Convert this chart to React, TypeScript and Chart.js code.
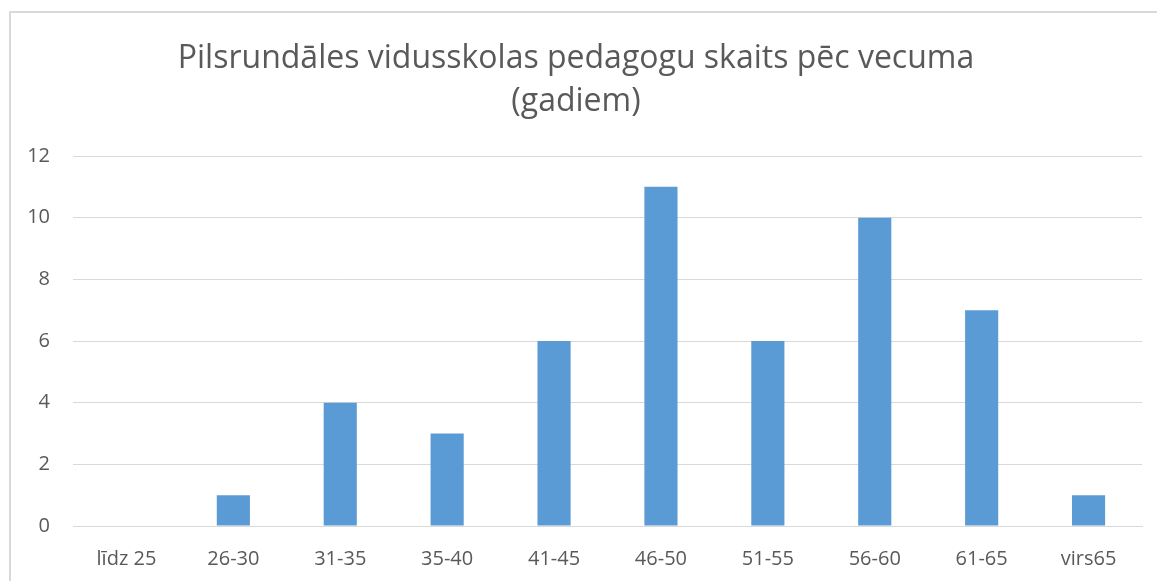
import React, { useEffect, useRef } from "react";
import { Chart, registerables } from "chart.js";

Chart.register(...registerables);

const titleLines = ["Pilsrundāles vidusskolas pedagogu skaits pēc vecuma", "(gadiem)"];
const categories = ["līdz 25", "26-30", "31-35", "35-40", "41-45", "46-50", "51-55", "56-60", "61-65", "virs65"];
const values = [0, 1, 4, 3, 6, 11, 6, 10, 7, 1];
const yMin = 0;
const yMax = 12;
const yStep = 2;

const FONT = "'Open Sans', Lato, sans-serif";
const TEXT = "#595959";

export default function App() {
  const ref = useRef<HTMLCanvasElement | null>(null);
  useEffect(() => {
    if (!ref.current) return;
    const chart = new Chart(ref.current, {
      type: "bar",
      data: {
        labels: categories,
        datasets: [
          {
            data: values,
            backgroundColor: "#5B9BD5",
            borderWidth: 0,
            barPercentage: 0.5,
            categoryPercentage: 0.62,
          },
        ],
      },
      options: {
        animation: false,
        responsive: false,
        maintainAspectRatio: false,
        layout: { padding: { left: 10, right: 15, top: 37, bottom: 0 } },
        plugins: {
          legend: { display: false },
          tooltip: { enabled: false },
          title: {
            display: true,
            text: titleLines,
            color: TEXT,
            font: { family: FONT, size: 32, weight: "normal", lineHeight: "43px" },
            padding: { top: 0, bottom: 33 },
          },
        },
        scales: {
          x: {
            grid: { display: false, drawTicks: false },
            border: { display: true, color: "#d9d9d9", width: 1 },
            ticks: { color: TEXT, font: { family: FONT, size: 20 }, padding: 21, maxRotation: 0 },
            afterFit: (s: any) => {
              s.height = 55;
            },
          },
          y: {
            min: yMin,
            max: yMax,
            grid: { color: "#d9d9d9", drawTicks: false, lineWidth: 1 },
            border: { display: false },
            ticks: { stepSize: yStep, color: TEXT, font: { family: FONT, size: 20 }, padding: 23 },
            afterFit: (s: any) => {
              s.width = 63;
            },
          },
        },
      },
    });
    return () => chart.destroy();
  }, []);
  return (
    <div style={{ position: "fixed", left: 0, top: 0, width: 1157, height: 581, background: "#fff", overflow: "hidden" }}>
      <div
        style={{
          position: "absolute",
          left: 9,
          top: 11,
          width: 1300,
          height: 700,
          border: "2px solid #d9d9d9",
          boxSizing: "border-box",
        }}
      />
      <canvas ref={ref} width={1157} height={581} style={{ position: "absolute", left: 0, top: 0 }} />
    </div>
  );
}
